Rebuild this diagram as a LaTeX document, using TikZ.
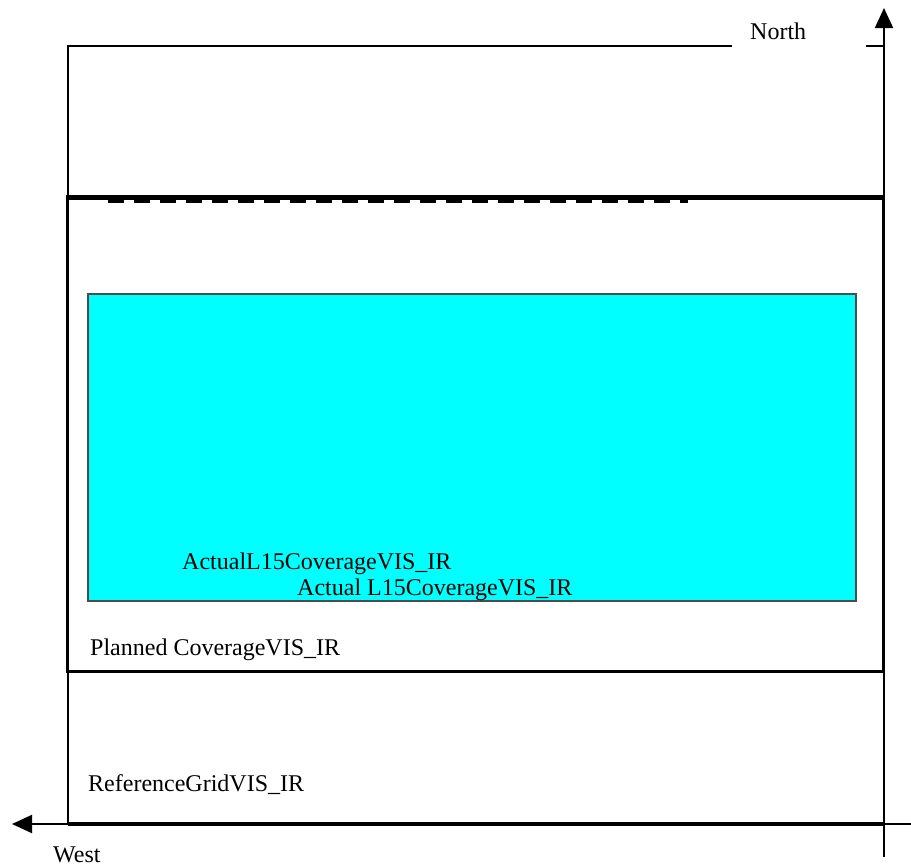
\documentclass[tikz,border=0pt]{standalone}
\usepackage{fontspec}
\setmainfont{Liberation Serif}
\usetikzlibrary{arrows.meta}
\definecolor{aqua}{RGB}{0,255,255}
\begin{document}
\begin{tikzpicture}[x=1pt,y=-1pt,
  thinline/.style={line width=2pt,black},
  thickline/.style={line width=3.5pt,black},
  txt/.style={font=\fontsize{24}{26}\selectfont,inner sep=0pt},
  lbl/.style={txt,anchor=base west},
  tip/.style={-{Triangle[length=20pt,width=18pt]}}]
\useasboundingbox (0,0) rectangle (911,868);
% coordinates
\coordinate (gridTL) at (68,46);
\coordinate (gridBL) at (68,824);
\coordinate (gapL) at (732,46);
\coordinate (gapR) at (866,46);
\coordinate (axisTop) at (884,46);
\coordinate (nTip) at (884,8);
\coordinate (nBot) at (884,857);
\coordinate (wTip) at (12,824);
\coordinate (wEnd) at (911,824);
\coordinate (axisCorner) at (884,824);
% reference grid
\draw[thinline] (gridBL) -- (gridTL) -- (gapL);
\draw[thinline] (gapR) -- (axisTop);
% axes
\draw[thinline,tip] (nBot) -- (nTip);
\draw[thinline,tip] (wEnd) -- (wTip);
\draw[thickline] (gridBL) -- (axisCorner);
% planned coverage
\draw[line width=1.5pt] (66,196) -- (884,196);
\draw[line width=3pt] (67,198) rectangle (883,671);
\draw[line width=3.5pt,dash pattern=on 16pt off 10pt] (108,201) -- (688,201);
% actual coverage
\draw[fill=aqua,draw=black!70,line width=1.5pt] (88,294) rectangle (856,601);
% labels
\node[lbl] (north) at (750,39) {North};
\node[lbl] (west) at (53,862) {West};
\node[lbl] (ref) at (88,791) {ReferenceGridVIS\_IR};
\node[lbl] (plan) at (90,655) {Planned CoverageVIS\_IR};
\node[lbl] (act1) at (182,569) {ActualL15CoverageVIS\_IR};
\node[lbl] (act2) at (297,595) {Actual L15CoverageVIS\_IR};
\end{tikzpicture}
\end{document}
